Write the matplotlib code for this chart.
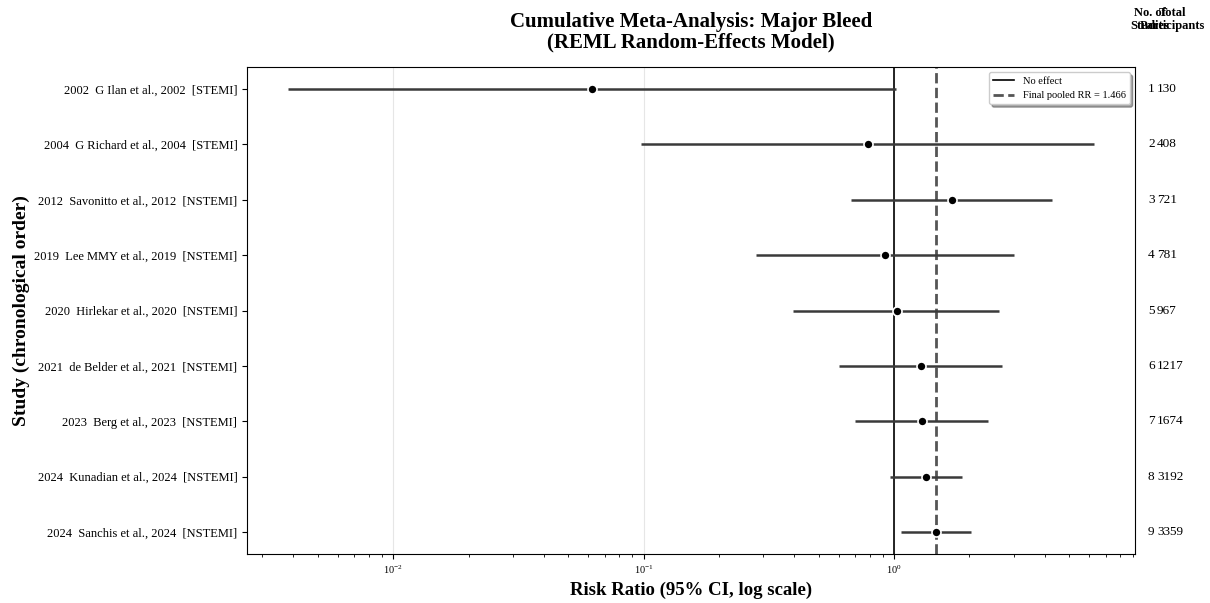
import matplotlib
matplotlib.use("Agg")
from matplotlib import pyplot as plt
import numpy as np

plt.rcParams['font.family'] = ['Liberation Serif', 'DejaVu Serif']
plt.rcParams['mathtext.fontset'] = 'custom'
plt.rcParams['mathtext.rm'] = 'Liberation Serif'
plt.rcParams['mathtext.it'] = 'Liberation Serif:italic'

# cumulative pooled estimates, oldest study first
studyLabels = [
    "2002  G Ilan et al., 2002  [STEMI]",
    "2004  G Richard et al., 2004  [STEMI]",
    "2012  Savonitto et al., 2012  [NSTEMI]",
    "2019  Lee MMY et al., 2019  [NSTEMI]",
    "2020  Hirlekar et al., 2020  [NSTEMI]",
    "2021  de Belder et al., 2021  [NSTEMI]",
    "2023  Berg et al., 2023  [NSTEMI]",
    "2024  Kunadian et al., 2024  [NSTEMI]",
    "2024  Sanchis et al., 2024  [NSTEMI]",
]
pooledRR = [0.0623, 0.787, 1.704, 0.921, 1.028, 1.28, 1.29, 1.34, 1.466]
lowerCI = [0.00381, 0.0977, 0.673, 0.281, 0.395, 0.603, 0.699, 0.964, 1.066]
upperCI = [1.02, 6.29, 4.27, 3.01, 2.62, 2.70, 2.37, 1.87, 2.03]
numStudies = [1, 2, 3, 4, 5, 6, 7, 8, 9]
totalParticipants = [130, 408, 721, 781, 967, 1217, 1674, 3192, 3359]
finalRR = 1.466

fig = plt.figure(figsize=(12.1, 6.03), dpi=100)
ax = fig.add_axes([247 / 1210, 1 - 554 / 603, 888 / 1210, 487 / 603])

yPos = np.arange(len(studyLabels))
rr = np.array(pooledRR)
errLow = rr - np.array(lowerCI)
errHigh = np.array(upperCI) - rr

ax.errorbar(rr, yPos, xerr=[errLow, errHigh], fmt='none', ecolor='#3a3a3a',
            elinewidth=1.8, capsize=0, zorder=2)
ax.plot(rr, yPos, 'o', color='black', markersize=6.5, markeredgecolor='white',
        markeredgewidth=1.2, zorder=3)

ax.axvline(1.0, color='black', linewidth=1.2, linestyle='-', label='No effect', zorder=1)
ax.axvline(finalRR, color='#555555', linewidth=2, linestyle='--',
           label=f'Final pooled RR = {finalRR:.3f}', zorder=1)

ax.set_xscale('log')
ax.set_xlim(0.00261, 9.16)
ax.set_ylim(len(studyLabels) - 0.6, -0.4)
ax.set_yticks(yPos)
ax.set_yticklabels(studyLabels, fontsize=9)
ax.tick_params(axis='x', labelsize=7.5)
ax.grid(True, axis='x', which='major', color='#e6e6e6', linewidth=0.8)
ax.set_axisbelow(True)

ax.set_xlabel("Risk Ratio (95% CI, log scale)", fontsize=13.5, fontweight='bold', labelpad=4)
ax.set_ylabel("Study (chronological order)", fontsize=14, fontweight='bold', labelpad=3)
ax.set_title("Cumulative Meta-Analysis: Major Bleed\n(REML Random-Effects Model)",
             fontsize=15, fontweight='bold', pad=14, linespacing=1.05)

ax.legend(loc='upper right', fontsize=7.5, shadow=True, fancybox=True, framealpha=1)

# side columns with study counts and participants
for i in range(len(studyLabels)):
    ax.text(1.0146, yPos[i], str(numStudies[i]), transform=ax.get_yaxis_transform(),
            ha='left', va='center', fontsize=9.5)
    ax.text(1.0248, yPos[i], str(totalParticipants[i]), transform=ax.get_yaxis_transform(),
            ha='left', va='center', fontsize=9.5)

ax.text(1.017, 1.098, "No. of\nStudies", transform=ax.transAxes, ha='center', va='center',
        fontsize=9, fontweight='bold', linespacing=1.15)
ax.text(1.042, 1.098, "Total\nParticipants", transform=ax.transAxes, ha='center', va='center',
        fontsize=9, fontweight='bold', linespacing=1.15)

fig.savefig("out.png", dpi=100)
